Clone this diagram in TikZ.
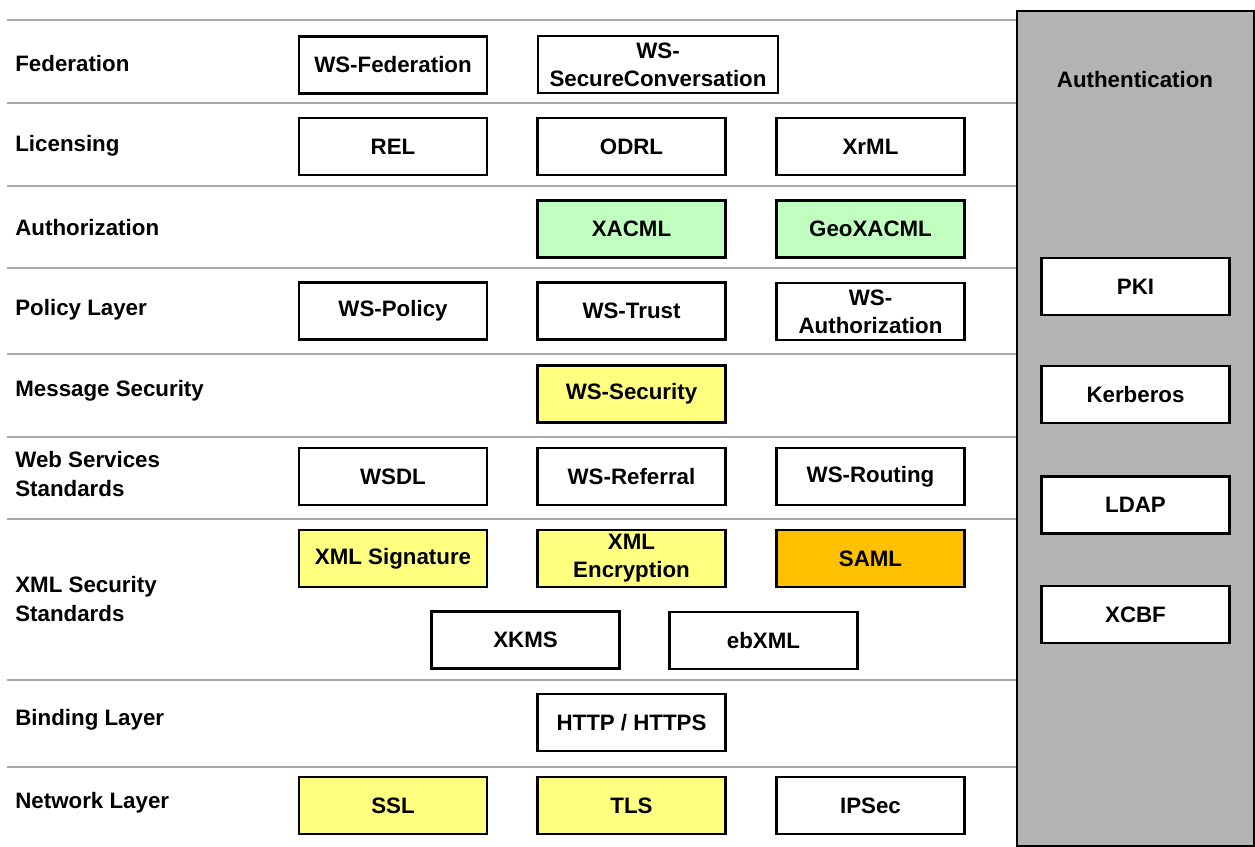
\documentclass[tikz,border=0pt]{standalone}
\usepackage{fontspec}
\setmainfont{Liberation Sans}
\begin{document}
\begin{tikzpicture}[x=0.02cm,y=-0.02cm,
  every node/.style={font=\bfseries\fontsize{12.7}{16}\selectfont},
  std/.style={draw=black, line width=1.6pt, fill=white, minimum width=3.76cm,
    minimum height=1.14cm, inner sep=0pt, align=center},
  wide/.style={std, minimum width=4.8cm},
  green/.style={fill=xgreen},
  yellow/.style={fill=xyellow},
  orange/.style={fill=xorange},
  layer/.style={anchor=west, align=left, inner sep=0pt},
  sep/.style={draw=sepgray, line width=1.1pt}]
\definecolor{xgreen}{HTML}{C0FFC0}
\definecolor{xyellow}{HTML}{FFFF80}
\definecolor{xorange}{HTML}{FFC000}
\definecolor{sepgray}{HTML}{A8A8A8}
\definecolor{authgray}{HTML}{B3B3B3}
\useasboundingbox (0,0) rectangle (1255,846);

% layer separators
\foreach \yy in {20,103,186,268,354,437,519,680,767}
  \draw[sep] (7,\yy) -- (1016,\yy);

% authentication column
\node[draw=black, line width=1.4pt, fill=authgray, minimum width=4.74cm,
  minimum height=16.7cm, inner sep=0pt, anchor=north west] (authcol) at (1016,10) {};
\node (authlabel) at (1135,80) {Authentication};
\node[std] (pki) at (1135.5,286.5) {PKI};
\node[std] (kerberos) at (1135.5,394.5) {Kerberos};
\node[std] (ldap) at (1135.5,505) {LDAP};
\node[std] (xcbf) at (1135.5,614.5) {XCBF};

% layer names
\node[layer] (lfed) at (15,64) {Federation};
\node[layer] (llic) at (15,145.5) {Licensing};
\node[layer] (lauth) at (15,228) {Authorization};
\node[layer] (lpol) at (15,310) {Policy Layer};
\node[layer] (lmsg) at (15,391) {Message Security};
\node[layer] (lweb) at (15,474) {Web Services\\Standards};
\node[layer] (lxml) at (15,599) {XML Security\\Standards};
\node[layer] (lbind) at (15,720) {Binding Layer};
\node[layer] (lnet) at (15,803) {Network Layer};

% Federation
\node[std] (wsfed) at (393,65) {WS-Federation};
\node[wide] (wssc) at (658,64.5) {WS-\\SecureConversation};
% Licensing
\node[std] (rel) at (393,146.5) {REL};
\node[std] (odrl) at (631.5,146.5) {ODRL};
\node[std] (xrml) at (870.5,146.5) {XrML};
% Authorization
\node[std,green] (xacml) at (631.5,229) {XACML};
\node[std,green] (geoxacml) at (870.5,229) {GeoXACML};
% Policy
\node[std] (wspolicy) at (393,311) {WS-Policy};
\node[std] (wstrust) at (631.5,311) {WS-Trust};
\node[std] (wsauthz) at (870.5,311.5) {WS-\\Authorization};
% Message security
\node[std,yellow] (wssec) at (631.5,394) {WS-Security};
% Web services standards
\node[std] (wsdl) at (393,476.5) {WSDL};
\node[std] (wsref) at (631.5,476.5) {WS-Referral};
\node[std] (wsrout) at (870.5,476.5) {WS-Routing};
% XML security standards
\node[std,yellow] (xmlsig) at (393,558.5) {XML Signature};
\node[std,yellow] (xmlenc) at (631.5,558.5) {XML\\Encryption};
\node[std,orange] (saml) at (870.5,558.5) {SAML};
\node[std] (xkms) at (525.5,640) {XKMS};
\node[std] (ebxml) at (763.5,640.5) {ebXML};
% Binding
\node[std] (http) at (631.5,722.5) {HTTP / HTTPS};
% Network
\node[std,yellow] (ssl) at (393,805.5) {SSL};
\node[std,yellow] (tls) at (631.5,805.5) {TLS};
\node[std] (ipsec) at (870.5,805.5) {IPSec};
\end{tikzpicture}
\end{document}
